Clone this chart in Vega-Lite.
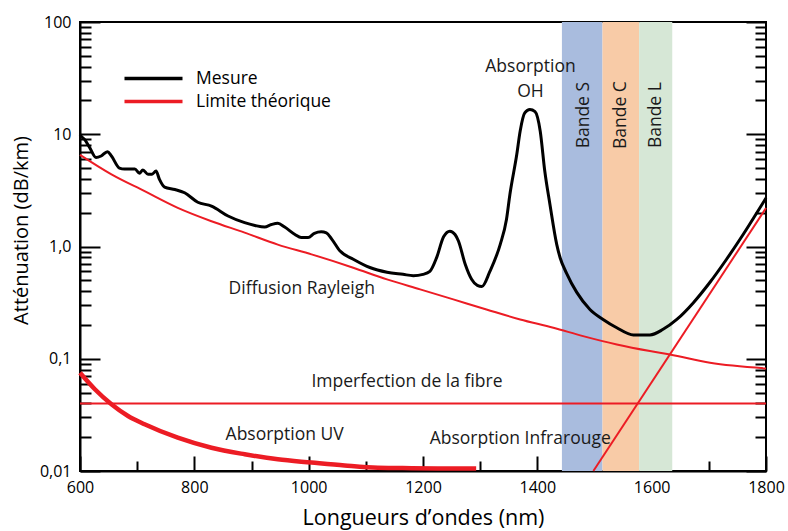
{
  "$schema": "https://vega.github.io/schema/vega-lite/v6.json",
  "width": 686,
  "height": 449,
  "autosize": "none",
  "padding": {"left": 80, "top": 22, "right": 22, "bottom": 60},
  "config": {
    "font": "Open Sans",
    "view": {"stroke": "#000000", "strokeWidth": 2},
    "axis": {
      "domainColor": "#000000", "domainWidth": 2,
      "tickColor": "#000000", "tickWidth": 2,
      "labelColor": "#000000", "labelFontSize": 16, "labelFont": "Open Sans",
      "titleFont": "Open Sans", "titleFontWeight": "normal", "titleFontSize": 20, "titleColor": "#000000",
      "grid": false, "labelFlush": false
    },
    "text": {"font": "Open Sans", "fontSize": 17.5, "color": "#1a1a1a"}
  },
  "datasets": {
    "bandes": [
      {"bande": "Bande S", "debut": 1443, "fin": 1514},
      {"bande": "Bande C", "debut": 1514, "fin": 1578},
      {"bande": "Bande L", "debut": 1578, "fin": 1636}
    ],
    "mesure": [
      {"serie": "Mesure", "lambda": 600, "att": 9.9},
      {"serie": "Mesure", "lambda": 602, "att": 9.6},
      {"serie": "Mesure", "lambda": 608, "att": 9.0},
      {"serie": "Mesure", "lambda": 617, "att": 7.6},
      {"serie": "Mesure", "lambda": 628, "att": 6.2},
      {"serie": "Mesure", "lambda": 637, "att": 6.4},
      {"serie": "Mesure", "lambda": 648, "att": 7.0},
      {"serie": "Mesure", "lambda": 655, "att": 6.4},
      {"serie": "Mesure", "lambda": 669, "att": 5.0},
      {"serie": "Mesure", "lambda": 678, "att": 4.9},
      {"serie": "Mesure", "lambda": 696, "att": 4.9},
      {"serie": "Mesure", "lambda": 704, "att": 4.5},
      {"serie": "Mesure", "lambda": 710, "att": 4.8},
      {"serie": "Mesure", "lambda": 719, "att": 4.4},
      {"serie": "Mesure", "lambda": 726, "att": 4.4},
      {"serie": "Mesure", "lambda": 733, "att": 4.7},
      {"serie": "Mesure", "lambda": 739, "att": 3.96},
      {"serie": "Mesure", "lambda": 748, "att": 3.38},
      {"serie": "Mesure", "lambda": 766, "att": 3.22},
      {"serie": "Mesure", "lambda": 783, "att": 3.01},
      {"serie": "Mesure", "lambda": 806, "att": 2.48},
      {"serie": "Mesure", "lambda": 830, "att": 2.29},
      {"serie": "Mesure", "lambda": 859, "att": 1.87},
      {"serie": "Mesure", "lambda": 888, "att": 1.63},
      {"serie": "Mesure", "lambda": 906, "att": 1.54},
      {"serie": "Mesure", "lambda": 923, "att": 1.49},
      {"serie": "Mesure", "lambda": 935, "att": 1.57},
      {"serie": "Mesure", "lambda": 946, "att": 1.61},
      {"serie": "Mesure", "lambda": 958, "att": 1.49},
      {"serie": "Mesure", "lambda": 976, "att": 1.28},
      {"serie": "Mesure", "lambda": 987, "att": 1.2},
      {"serie": "Mesure", "lambda": 999, "att": 1.2},
      {"serie": "Mesure", "lambda": 1010, "att": 1.31},
      {"serie": "Mesure", "lambda": 1022, "att": 1.35},
      {"serie": "Mesure", "lambda": 1031, "att": 1.32},
      {"serie": "Mesure", "lambda": 1040, "att": 1.17},
      {"serie": "Mesure", "lambda": 1055, "att": 0.91},
      {"serie": "Mesure", "lambda": 1078, "att": 0.77},
      {"serie": "Mesure", "lambda": 1107, "att": 0.65},
      {"serie": "Mesure", "lambda": 1137, "att": 0.59},
      {"serie": "Mesure", "lambda": 1165, "att": 0.565},
      {"serie": "Mesure", "lambda": 1183, "att": 0.55},
      {"serie": "Mesure", "lambda": 1200, "att": 0.565},
      {"serie": "Mesure", "lambda": 1212, "att": 0.6},
      {"serie": "Mesure", "lambda": 1224, "att": 0.8},
      {"serie": "Mesure", "lambda": 1236, "att": 1.22},
      {"serie": "Mesure", "lambda": 1247, "att": 1.37},
      {"serie": "Mesure", "lambda": 1256, "att": 1.28},
      {"serie": "Mesure", "lambda": 1262, "att": 1.12},
      {"serie": "Mesure", "lambda": 1274, "att": 0.69},
      {"serie": "Mesure", "lambda": 1285, "att": 0.51},
      {"serie": "Mesure", "lambda": 1295, "att": 0.45},
      {"serie": "Mesure", "lambda": 1303, "att": 0.44},
      {"serie": "Mesure", "lambda": 1317, "att": 0.6},
      {"serie": "Mesure", "lambda": 1335, "att": 1.04},
      {"serie": "Mesure", "lambda": 1346, "att": 1.74},
      {"serie": "Mesure", "lambda": 1352, "att": 2.91},
      {"serie": "Mesure", "lambda": 1364, "att": 6.6},
      {"serie": "Mesure", "lambda": 1370, "att": 10.7},
      {"serie": "Mesure", "lambda": 1378, "att": 15.5},
      {"serie": "Mesure", "lambda": 1387, "att": 16.6},
      {"serie": "Mesure", "lambda": 1396, "att": 15.9},
      {"serie": "Mesure", "lambda": 1405, "att": 10.7},
      {"serie": "Mesure", "lambda": 1413, "att": 4.7},
      {"serie": "Mesure", "lambda": 1422, "att": 2.38},
      {"serie": "Mesure", "lambda": 1434, "att": 1.04},
      {"serie": "Mesure", "lambda": 1440, "att": 0.79},
      {"serie": "Mesure", "lambda": 1451, "att": 0.58},
      {"serie": "Mesure", "lambda": 1469, "att": 0.39},
      {"serie": "Mesure", "lambda": 1492, "att": 0.275},
      {"serie": "Mesure", "lambda": 1515, "att": 0.224},
      {"serie": "Mesure", "lambda": 1539, "att": 0.189},
      {"serie": "Mesure", "lambda": 1568, "att": 0.163},
      {"serie": "Mesure", "lambda": 1597, "att": 0.163},
      {"serie": "Mesure", "lambda": 1620, "att": 0.183},
      {"serie": "Mesure", "lambda": 1644, "att": 0.224},
      {"serie": "Mesure", "lambda": 1673, "att": 0.316},
      {"serie": "Mesure", "lambda": 1702, "att": 0.48},
      {"serie": "Mesure", "lambda": 1731, "att": 0.77},
      {"serie": "Mesure", "lambda": 1760, "att": 1.28},
      {"serie": "Mesure", "lambda": 1784, "att": 2.0},
      {"serie": "Mesure", "lambda": 1800, "att": 2.7}
    ],
    "limite": [
      {"serie": "Limite théorique", "courbe": "Diffusion Rayleigh", "lambda": 600, "att": 6.55},
      {"serie": "Limite théorique", "courbe": "Diffusion Rayleigh", "lambda": 655, "att": 4.39},
      {"serie": "Limite théorique", "courbe": "Diffusion Rayleigh", "lambda": 713, "att": 3.11},
      {"serie": "Limite théorique", "courbe": "Diffusion Rayleigh", "lambda": 771, "att": 2.21},
      {"serie": "Limite théorique", "courbe": "Diffusion Rayleigh", "lambda": 830, "att": 1.68},
      {"serie": "Limite théorique", "courbe": "Diffusion Rayleigh", "lambda": 888, "att": 1.33},
      {"serie": "Limite théorique", "courbe": "Diffusion Rayleigh", "lambda": 946, "att": 1.04},
      {"serie": "Limite théorique", "courbe": "Diffusion Rayleigh", "lambda": 1005, "att": 0.851},
      {"serie": "Limite théorique", "courbe": "Diffusion Rayleigh", "lambda": 1078, "att": 0.647},
      {"serie": "Limite théorique", "courbe": "Diffusion Rayleigh", "lambda": 1137, "att": 0.509},
      {"serie": "Limite théorique", "courbe": "Diffusion Rayleigh", "lambda": 1195, "att": 0.415},
      {"serie": "Limite théorique", "courbe": "Diffusion Rayleigh", "lambda": 1253, "att": 0.338},
      {"serie": "Limite théorique", "courbe": "Diffusion Rayleigh", "lambda": 1311, "att": 0.275},
      {"serie": "Limite théorique", "courbe": "Diffusion Rayleigh", "lambda": 1370, "att": 0.224},
      {"serie": "Limite théorique", "courbe": "Diffusion Rayleigh", "lambda": 1428, "att": 0.189},
      {"serie": "Limite théorique", "courbe": "Diffusion Rayleigh", "lambda": 1480, "att": 0.159},
      {"serie": "Limite théorique", "courbe": "Diffusion Rayleigh", "lambda": 1539, "att": 0.134},
      {"serie": "Limite théorique", "courbe": "Diffusion Rayleigh", "lambda": 1597, "att": 0.117},
      {"serie": "Limite théorique", "courbe": "Diffusion Rayleigh", "lambda": 1632, "att": 0.109},
      {"serie": "Limite théorique", "courbe": "Diffusion Rayleigh", "lambda": 1702, "att": 0.092},
      {"serie": "Limite théorique", "courbe": "Diffusion Rayleigh", "lambda": 1800, "att": 0.082},
      {"serie": "Limite théorique", "courbe": "Imperfection de la fibre", "lambda": 600, "att": 0.04},
      {"serie": "Limite théorique", "courbe": "Imperfection de la fibre", "lambda": 1800, "att": 0.04},
      {"serie": "Limite théorique", "courbe": "Absorption UV", "lambda": 600, "att": 0.075},
      {"serie": "Limite théorique", "courbe": "Absorption UV", "lambda": 626, "att": 0.0535},
      {"serie": "Limite théorique", "courbe": "Absorption UV", "lambda": 655, "att": 0.0393},
      {"serie": "Limite théorique", "courbe": "Absorption UV", "lambda": 684, "att": 0.0309},
      {"serie": "Limite théorique", "courbe": "Absorption UV", "lambda": 713, "att": 0.0261},
      {"serie": "Limite théorique", "courbe": "Absorption UV", "lambda": 771, "att": 0.0198},
      {"serie": "Limite théorique", "courbe": "Absorption UV", "lambda": 830, "att": 0.0161},
      {"serie": "Limite théorique", "courbe": "Absorption UV", "lambda": 888, "att": 0.0141},
      {"serie": "Limite théorique", "courbe": "Absorption UV", "lambda": 946, "att": 0.0127},
      {"serie": "Limite théorique", "courbe": "Absorption UV", "lambda": 1005, "att": 0.0119},
      {"serie": "Limite théorique", "courbe": "Absorption UV", "lambda": 1063, "att": 0.0112},
      {"serie": "Limite théorique", "courbe": "Absorption UV", "lambda": 1121, "att": 0.0107},
      {"serie": "Limite théorique", "courbe": "Absorption UV", "lambda": 1180, "att": 0.0106},
      {"serie": "Limite théorique", "courbe": "Absorption UV", "lambda": 1293, "att": 0.0105},
      {"serie": "Limite théorique", "courbe": "Absorption Infrarouge", "lambda": 1498, "att": 0.01},
      {"serie": "Limite théorique", "courbe": "Absorption Infrarouge", "lambda": 1800, "att": 2.2}
    ],
    "etiquettes_bandes": [
      {"texte": "Bande S", "lambda": 1482, "att": 14.8},
      {"texte": "Bande C", "lambda": 1546, "att": 14.8},
      {"texte": "Bande L", "lambda": 1608, "att": 14.8}
    ],
    "annotations": [
      {"texte": "Absorption", "lambda": 1388, "att": 39.4},
      {"texte": "OH", "lambda": 1388, "att": 24.0},
      {"texte": "Diffusion Rayleigh", "lambda": 988, "att": 0.417},
      {"texte": "Imperfection de la fibre", "lambda": 1172, "att": 0.0623},
      {"texte": "Absorption UV", "lambda": 958, "att": 0.0209},
      {"texte": "Absorption Infrarouge", "lambda": 1370, "att": 0.0191}
    ]
  },
  "layer": [
    {
      "data": {"name": "bandes"},
      "mark": {"type": "rect"},
      "encoding": {
        "x": {
          "field": "debut", "type": "quantitative",
          "scale": {"domain": [600, 1800], "nice": false, "zero": false},
          "axis": {
            "orient": "bottom", "values": [600, 800, 1000, 1200, 1400, 1600, 1800],
            "format": "d", "tickSize": -15, "labelPadding": 23,
            "title": "Longueurs d’ondes (nm)", "titlePadding": 12, "titleFontSize": 21.5
          }
        },
        "x2": {"field": "fin"},
        "fill": {
          "field": "bande", "type": "nominal",
          "scale": {"domain": ["Bande S", "Bande C", "Bande L"], "range": ["#a9bcde", "#f8cba7", "#d6e7d6"]},
          "legend": null
        }
      }
    },
    {
      "data": {"name": "limite"},
      "transform": [{"filter": "datum.courbe != 'Absorption UV'"}],
      "mark": {"type": "line", "strokeWidth": 2, "strokeJoin": "round", "interpolate": "monotone"},
      "encoding": {
        "x": {
          "field": "lambda", "type": "quantitative",
          "scale": {"domain": [600, 1800], "nice": false, "zero": false},
          "axis": null
        },
        "y": {
          "field": "att", "type": "quantitative",
          "scale": {"type": "log", "domain": [0.01, 100], "nice": false},
          "axis": {
            "orient": "left",
            "values": [0.02, 0.03, 0.04, 0.05, 0.06, 0.07, 0.08, 0.09, 0.2, 0.3, 0.4, 0.5, 0.6, 0.7, 0.8, 0.9, 2, 3, 4, 5, 6, 7, 8, 9, 20, 30, 40, 50, 60, 70, 80, 90],
            "tickSize": -11, "labels": false, "domain": false, "title": null
          }
        },
        "detail": {"field": "courbe", "type": "nominal"},
        "stroke": {
          "field": "serie", "type": "nominal",
          "scale": {"domain": ["Mesure", "Limite théorique"], "range": ["#000000", "#ec1c24"]},
          "legend": {
            "orient": "none", "legendX": 62, "legendY": 45, "title": null,
            "symbolType": "M-3,0H3", "symbolSize": 374, "symbolStrokeWidth": 3.5,
            "labelFontSize": 17.5, "labelFont": "Open Sans", "labelColor": "#000000",
            "labelOffset": 31, "rowPadding": 3
          }
        }
      }
    },
    {
      "data": {"name": "limite"},
      "transform": [{"filter": "datum.courbe == 'Absorption UV'"}],
      "mark": {"type": "line", "strokeWidth": 4.5, "strokeJoin": "round", "interpolate": "monotone"},
      "encoding": {
        "x": {
          "field": "lambda", "type": "quantitative",
          "scale": {"domain": [600, 1800], "nice": false, "zero": false},
          "axis": null
        },
        "y": {
          "field": "att", "type": "quantitative",
          "scale": {"type": "log", "domain": [0.01, 100], "nice": false},
          "axis": null
        },
        "stroke": {"field": "serie", "type": "nominal"}
      }
    },
    {
      "data": {"name": "mesure"},
      "mark": {"type": "line", "strokeWidth": 3, "strokeJoin": "round", "interpolate": "monotone"},
      "encoding": {
        "x": {
          "field": "lambda", "type": "quantitative",
          "scale": {"domain": [600, 1800], "nice": false, "zero": false},
          "axis": {
            "orient": "bottom", "values": [700, 900, 1100, 1300, 1500, 1700],
            "tickSize": -10, "labels": false, "domain": false, "title": null
          }
        },
        "y": {
          "field": "att", "type": "quantitative",
          "scale": {"type": "log", "domain": [0.01, 100], "nice": false},
          "axis": {
            "orient": "left", "values": [0.01, 0.1, 1, 10, 100], "tickSize": -20, "labelPadding": 29,
            "labelExpr": "datum.value >= 99 ? '100' : datum.value >= 9 ? '10' : datum.value >= 0.9 ? '1,0' : datum.value >= 0.09 ? '0,1' : '0,01'",
            "title": "Atténuation (dB/km)", "titlePadding": 8, "titleY": 208
          }
        },
        "stroke": {"field": "serie", "type": "nominal"}
      }
    },
    {
      "data": {"name": "etiquettes_bandes"},
      "mark": {"type": "text", "angle": 270, "align": "center", "baseline": "middle"},
      "encoding": {
        "x": {
          "field": "lambda", "type": "quantitative",
          "scale": {"domain": [600, 1800], "nice": false, "zero": false},
          "axis": null
        },
        "y": {
          "field": "att", "type": "quantitative",
          "scale": {"type": "log", "domain": [0.01, 100], "nice": false},
          "axis": {
            "orient": "right", "values": [0.01, 0.1, 1, 10, 100], "tickSize": -20,
            "labels": false, "domain": false, "title": null
          }
        },
        "text": {"field": "texte", "type": "nominal"}
      }
    },
    {
      "data": {"name": "annotations"},
      "mark": {"type": "text", "align": "center", "baseline": "middle"},
      "encoding": {
        "x": {
          "field": "lambda", "type": "quantitative",
          "scale": {"domain": [600, 1800], "nice": false, "zero": false},
          "axis": null
        },
        "y": {
          "field": "att", "type": "quantitative",
          "scale": {"type": "log", "domain": [0.01, 100], "nice": false},
          "axis": {
            "orient": "right",
            "values": [0.02, 0.03, 0.04, 0.05, 0.06, 0.07, 0.08, 0.09, 0.2, 0.3, 0.4, 0.5, 0.6, 0.7, 0.8, 0.9, 2, 3, 4, 5, 6, 7, 8, 9, 20, 30, 40, 50, 60, 70, 80, 90],
            "tickSize": -11, "labels": false, "domain": false, "title": null
          }
        },
        "text": {"field": "texte", "type": "nominal"}
      }
    }
  ],
  "resolve": {"axis": {"x": "independent", "y": "independent"}}
}
